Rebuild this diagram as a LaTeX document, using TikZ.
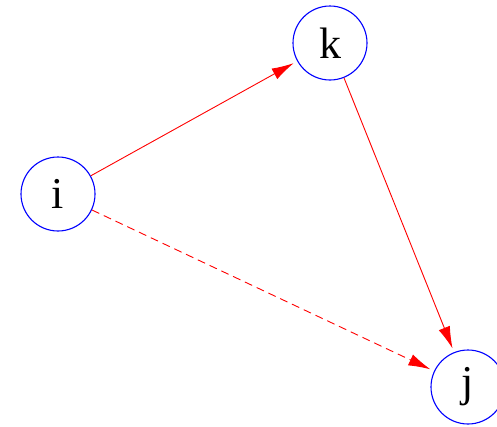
\documentclass[tikz,border=0pt]{standalone}
\usepackage{fontspec}
\setmainfont{Liberation Serif}
\usetikzlibrary{arrows.meta}

\begin{document}
\begin{tikzpicture}[
    x=1pt, y=-1pt,
    vertex/.style={
      circle, draw=blue, line width=1.1pt, minimum size=74pt,
      inner sep=0pt, font=\fontsize{44}{52}\selectfont
    },
    link/.style={-{Latex[length=22pt,width=12pt]}, red, line width=0.9pt, shorten >=4pt}
  ]
  \clip (0,0) rectangle (497,426);
  \node[vertex] (i) at (58,194) {i};
  \node[vertex] (k) at (330,43) {k};
  \node[vertex] (j) at (468,387) {j};
  \draw[link] (i) -- (k);
  \draw[link] (k) -- (j);
  \draw[link, dash pattern=on 8pt off 5pt] (i) -- (j);
\end{tikzpicture}
\end{document}
